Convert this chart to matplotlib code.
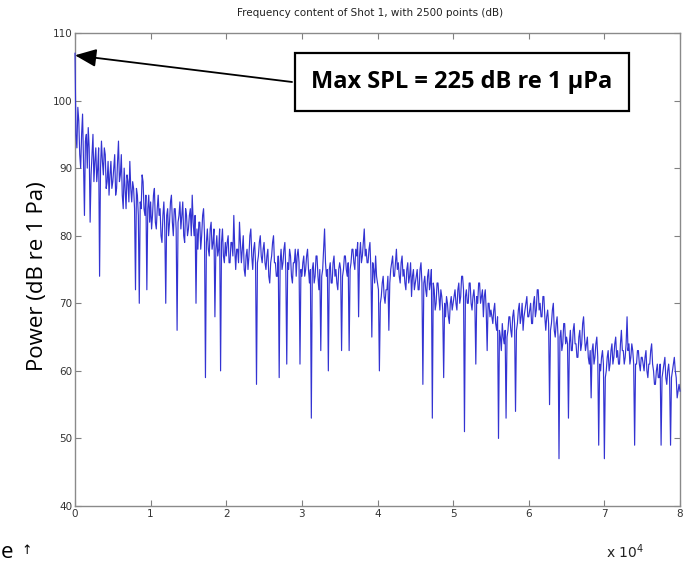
import matplotlib
matplotlib.use("Agg")
import matplotlib.pyplot as plt
import numpy as np

# Frequency step between readings (Hz) and power values (dB re 1 Pa)
freq_step = 125
power_db = [
    107, 95, 93, 99, 97, 92, 90, 95, 98, 91, 83, 94, 95, 90, 96, 93, 82, 89, 92, 95,
    88, 91, 93, 88, 90, 93, 74, 90, 94, 91, 89, 93, 92, 87, 88, 91, 86, 89, 91, 87,
    88, 90, 92, 86, 87, 91, 94, 88, 89, 92, 86, 84, 90, 87, 84, 89, 88, 85, 91, 87,
    85, 88, 87, 84, 72, 87, 86, 83, 70, 85, 84, 89, 88, 84, 83, 86, 72, 84, 86, 82,
    85, 81, 83, 86, 87, 82, 81, 84, 86, 83, 84, 80, 79, 83, 85, 81, 70, 83, 84, 80,
    82, 85, 86, 82, 80, 84, 84, 81, 66, 82, 83, 85, 81, 83, 85, 80, 79, 84, 83, 80,
    81, 83, 84, 80, 86, 82, 80, 83, 70, 81, 78, 82, 82, 78, 80, 83, 84, 80, 59, 79,
    81, 78, 77, 81, 82, 78, 79, 81, 68, 78, 80, 77, 78, 81, 60, 79, 81, 77, 76, 79,
    77, 79, 80, 76, 76, 79, 79, 77, 83, 78, 75, 78, 78, 76, 82, 79, 76, 78, 80, 75,
    74, 77, 78, 75, 77, 80, 81, 77, 75, 78, 79, 76, 58, 76, 77, 79, 80, 77, 76, 78,
    79, 76, 75, 77, 78, 74, 73, 76, 77, 79, 80, 76, 76, 74, 74, 77, 59, 76, 78, 75,
    76, 78, 79, 75, 61, 76, 75, 78, 77, 74, 73, 76, 76, 78, 74, 77, 78, 76, 61, 75,
    74, 76, 77, 74, 75, 77, 78, 75, 73, 75, 53, 75, 76, 73, 74, 77, 77, 74, 72, 75,
    63, 74, 75, 78, 81, 76, 74, 75, 60, 75, 76, 73, 73, 76, 77, 74, 75, 73, 72, 75,
    76, 75, 63, 74, 75, 77, 77, 75, 74, 76, 63, 75, 76, 78, 78, 76, 75, 78, 77, 79,
    68, 77, 79, 76, 77, 79, 81, 77, 78, 76, 76, 78, 79, 75, 65, 76, 75, 73, 77, 74,
    73, 72, 60, 70, 71, 73, 74, 71, 70, 72, 72, 74, 66, 73, 75, 76, 77, 74, 74, 76,
    78, 75, 76, 74, 73, 76, 77, 74, 75, 73, 72, 75, 76, 73, 74, 76, 71, 74, 75, 72,
    73, 74, 75, 72, 72, 75, 76, 73, 58, 73, 74, 72, 71, 74, 75, 72, 73, 75, 53, 73,
    72, 69, 70, 73, 73, 71, 69, 72, 71, 69, 59, 70, 68, 71, 70, 68, 67, 70, 71, 69,
    70, 71, 72, 70, 69, 72, 73, 70, 71, 74, 74, 72, 51, 71, 72, 70, 70, 73, 73, 70,
    69, 71, 72, 70, 61, 71, 70, 73, 73, 70, 71, 72, 68, 71, 72, 69, 63, 70, 70, 68,
    69, 68, 67, 69, 70, 67, 66, 68, 50, 66, 65, 63, 67, 65, 64, 66, 53, 65, 66, 68,
    68, 66, 65, 68, 69, 67, 54, 66, 67, 69, 70, 67, 68, 70, 66, 68, 69, 70, 71, 68,
    68, 69, 70, 67, 67, 70, 71, 68, 69, 72, 72, 69, 70, 68, 68, 71, 71, 68, 66, 68,
    69, 67, 55, 66, 67, 69, 70, 66, 65, 67, 68, 65, 47, 65, 66, 63, 64, 67, 67, 64,
    65, 64, 53, 64, 66, 63, 63, 66, 67, 64, 64, 62, 62, 65, 66, 63, 64, 67, 68, 65,
    63, 64, 65, 62, 61, 63, 56, 63, 64, 61, 62, 64, 65, 62, 49, 61, 60, 62, 63, 61,
    47, 59, 60, 62, 63, 60, 61, 63, 64, 61, 62, 64, 65, 62, 63, 61, 61, 64, 66, 63,
    63, 61, 62, 64, 68, 63, 64, 61, 62, 64, 63, 61, 49, 61, 61, 63, 63, 61, 60, 62,
    62, 61, 60, 62, 63, 60, 59, 61, 61, 63, 64, 61, 60, 58, 58, 60, 61, 59, 59, 61,
    49, 59, 60, 61, 62, 59, 58, 60, 61, 59, 49, 59, 60, 61, 62, 60, 59, 56, 57, 58,
    57,
]
x_ticks = [0, 10000, 20000, 30000, 40000, 50000, 60000, 70000, 80000]
x_tick_labels = ["0", "1", "2", "3", "4", "5", "6", "7", "8"]
y_ticks = [40, 50, 60, 70, 80, 90, 100, 110]

title = "Frequency content of Shot 1, with 2500 points (dB)"
ylabel = "Power (dB re 1 Pa)"
callout = "Max SPL = 225 dB re 1 \u00b5Pa"

freqs = np.arange(len(power_db)) * freq_step

fig = plt.figure(figsize=(6.92, 5.67), dpi=100)
ax = fig.add_axes([75/692, 1 - 506/567, 605/692, 473/567])

ax.plot(freqs, power_db, color="#3333d2", lw=0.85, zorder=3, clip_on=False)

ax.set_xlim(0, 80000)
ax.set_ylim(40, 110)
ax.set_xticks(x_ticks)
ax.set_xticklabels(x_tick_labels)
ax.set_yticks(y_ticks)
ax.tick_params(direction="in", top=True, right=True, length=4, width=0.8,
               color="#808080", labelsize=7.5, labelcolor="#333333", pad=2)
for s in ax.spines.values():
    s.set_color("#8a8a8a")
    s.set_linewidth(1.0)

fig.text(0.535, 1 - 13/567, title, ha="center", va="center", fontsize=7.5, color="#222222")

ax.set_ylabel(ylabel, fontsize=16, family="Open Sans")
ax.yaxis.set_label_coords((48 - 75)/605, 0.486)

ax.annotate("", xy=(0, 106.7), xytext=(28700, 102.75),
            arrowprops=dict(arrowstyle="-|>,head_length=1.3,head_width=0.55",
                            color="black", lw=1.3, shrinkA=0, shrinkB=0),
            zorder=4)
ax.text((462 - 75)/605, 1 - (82 - 33)/473, callout, transform=ax.transAxes,
        ha="center", va="center", fontsize=17, fontweight="bold", family="Open Sans",
        bbox=dict(boxstyle="square,pad=0.7", fc="white", ec="black", lw=1.6), zorder=5)

fig.text(0.001, 1 - 552/567, "e", ha="left", va="center", fontsize=16, family="Open Sans")
fig.text(27/692, 1 - 551/567, "\u2191", ha="center", va="center", fontsize=9)
fig.text(625/692, 1 - 552/567, r"x 10$^4$", ha="center", va="center", fontsize=10, color="#222222")

fig.savefig("out.png", dpi=100)
